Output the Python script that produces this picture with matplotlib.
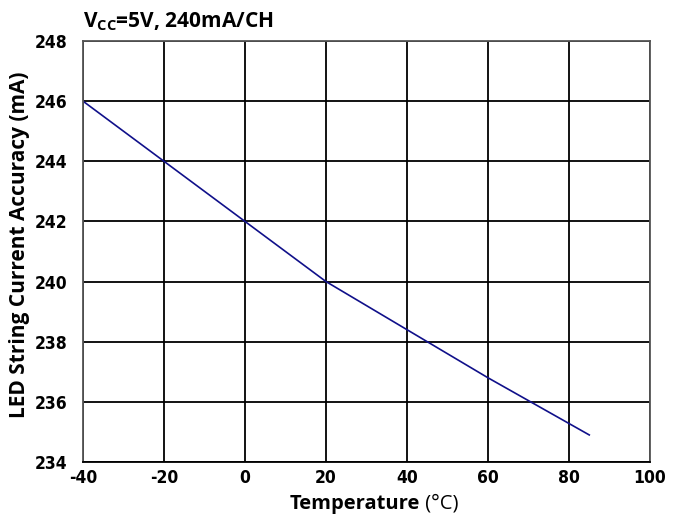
import matplotlib
matplotlib.use("Agg")
import matplotlib.pyplot as plt

plt.rcParams['axes.unicode_minus'] = False

temps = [-40, -20, 0, 20, 40, 60, 85]
current = [246.0, 244.0, 242.0, 240.0, 238.4, 236.8, 234.9]
xticks = [-40, -20, 0, 20, 40, 60, 80, 100]
yticks = [234, 236, 238, 240, 242, 244, 246, 248]

fam = ['Open Sans', 'DejaVu Sans']

fig = plt.figure(figsize=(6.81, 5.18), dpi=100)
ax = fig.add_axes([0.1219, 0.1081, 0.8326, 0.8127])
ax.plot(temps, current, color='#10108a', lw=1.2)
ax.set_xlim(-40, 100)
ax.set_ylim(234, 248)
ax.set_xticks(xticks)
ax.set_yticks(yticks)
ax.grid(True, color='black', lw=1.3)
ax.tick_params(axis='y', length=0, pad=11)
ax.tick_params(axis='x', length=0, pad=5)
for lab in ax.get_xticklabels() + ax.get_yticklabels():
    lab.set_fontfamily('DejaVu Sans')
    lab.set_fontstretch('condensed')
    lab.set_fontweight('bold')
    lab.set_fontsize(12.5)
for s in ax.spines.values():
    s.set_color('#555555')
    s.set_linewidth(1.3)
ax.spines['bottom'].set_color('black')

ax.set_ylabel('LED String Current Accuracy (mA)', fontsize=15, fontweight='bold',
              family=fam)
ax.yaxis.set_label_coords(-0.094, 0.517)

t1 = fig.text(290 / 681, 9 / 518, 'Temperature', fontsize=14.5, fontweight='bold',
              family=fam, ha='left', va='baseline')
ax.annotate(' (°C)', xy=(1, 0), xycoords=t1, fontsize=14.5, fontweight='normal',
            family=fam, ha='left', va='bottom')

fig.text(0.122, 0.948, r'V$_\mathregular{CC}$=5V, 240mA/CH', fontsize=15, fontweight='bold',
         family=fam, ha='left', va='baseline')
fig.savefig('out.png', dpi=100)
